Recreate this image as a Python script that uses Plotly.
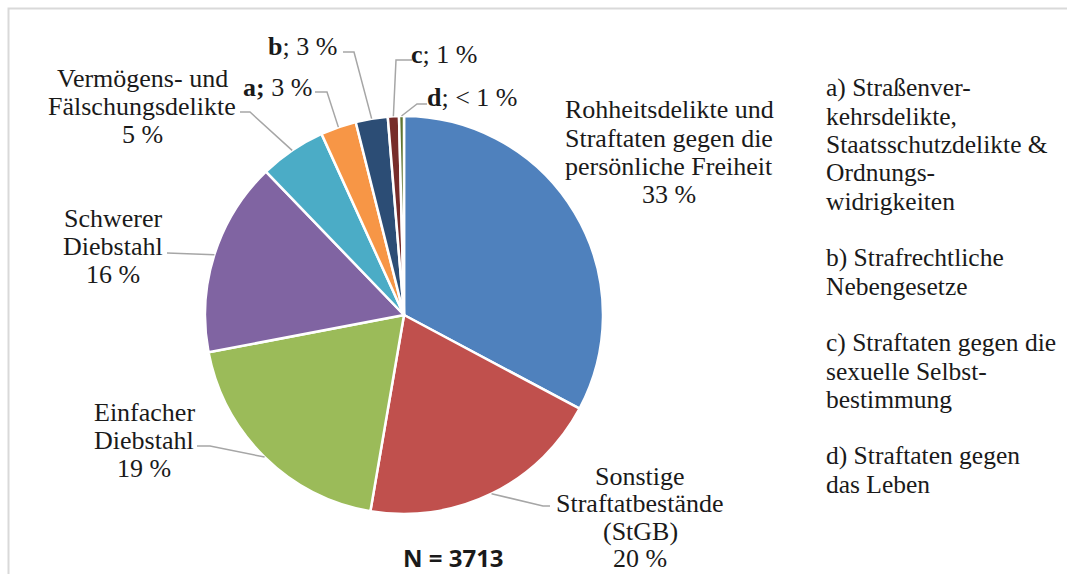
import math
import plotly.graph_objects as go

# ---------------- data ----------------
categories = [
    "Rohheitsdelikte und Straftaten gegen die persönliche Freiheit",
    "Sonstige Straftatbestände (StGB)",
    "Einfacher Diebstahl",
    "Schwerer Diebstahl",
    "Vermögens- und Fälschungsdelikte",
    "a", "b", "c", "d",
]
shares = [32.8, 19.9, 19.3, 15.8, 5.4, 2.9, 2.6, 0.9, 0.4]
pct_labels = ["33 %", "20 %", "19 %", "16 %", "5 %", "3 %", "3 %", "1 %", "&lt; 1 %"]
label_lines = [
    ["Rohheitsdelikte und", "Straftaten gegen die", "persönliche Freiheit"],
    ["Sonstige", "Straftatbestände", "(StGB)"],
    ["Einfacher", "Diebstahl"],
    ["Schwerer", "Diebstahl"],
    ["Vermögens- und", "Fälschungsdelikte"],
    ["<b>a;</b>"], ["<b>b</b>;"], ["<b>c</b>;"], ["<b>d</b>;"],
]
colors = ["#4F81BD", "#C0504D", "#9BBB59", "#8064A2", "#4BACC6",
          "#F79646", "#2C4D75", "#772C2A", "#5F7530"]
legend_lines = [
    "a) Straßenver-", "kehrsdelikte,", "Staatsschutzdelikte &amp;", "Ordnungs-", "widrigkeiten", "",
    "b) Strafrechtliche", "Nebengesetze", "",
    "c) Straftaten gegen die", "sexuelle Selbst-", "bestimmung", "",
    "d) Straftaten gegen", "das Leben",
]
n_total = 3713

# ---------------- layout geometry (pixels) ----------------
W, H = 1067, 574
CX, CY, R = 404, 315, 199
SERIF = "Liberation Serif, Times New Roman, serif"
FS = 26
LINE_H = 28.3
TEXT_COLOR = "#1a1a1a"
LEADER = "#A6A6A6"

def px(x):
    return x / W

def py(y):
    return 1 - y / H

# label block: (center x, first line y, line step, inline?)
label_pos = [
    (669, 110, LINE_H, False),
    (640, 476, 27.6, False),
    (144, 412, LINE_H, False),
    (113, 218, LINE_H, False),
    (142, 78, LINE_H, False),
    (277, 88, LINE_H, True),
    (302, 46, LINE_H, True),
    (444, 55, LINE_H, True),
    (472, 97, LINE_H, True),
]
# elbow points of leader lines (pixels), None = no leader
leader_elbows = [
    None,
    [(543, 506), (550, 506)],
    [(210, 446), (197, 446)],
    [(167, 253)],
    [(250, 112), (240, 112)],
    [(327, 92), (315, 92)],
    [(354, 52), (343, 52)],
    [(396, 60), (412, 60)],
    [(417, 104), (427, 104)],
]

fig = go.Figure()
fig.add_trace(go.Pie(
    labels=categories,
    values=shares,
    sort=False,
    direction="clockwise",
    rotation=0,
    marker=dict(colors=colors, line=dict(color="white", width=2.5)),
    textinfo="none",
    hoverinfo="label+percent",
    showlegend=False,
    domain=dict(x=[px(CX - R), px(CX + R)], y=[py(CY + R), py(CY - R)]),
))

annotations = []
shapes = []

# slice labels
for i, (cx, y0, step, inline) in enumerate(label_pos):
    if inline:
        lines = [label_lines[i][0] + " " + pct_labels[i]]
    else:
        lines = label_lines[i] + [pct_labels[i]]
    for k, t in enumerate(lines):
        annotations.append(dict(
            x=px(cx), y=py(y0 + k * step), xref="paper", yref="paper",
            text=t, showarrow=False, xanchor="center", yanchor="middle",
            font=dict(family=SERIF, size=FS, color=TEXT_COLOR),
        ))

# leader lines: start at slice edge at mid-angle computed from data
total = sum(shares)
cum = 0.0
for i, v in enumerate(shares):
    mid = (cum + v / 2) / total * 2 * math.pi
    cum += v
    if leader_elbows[i] is None:
        continue
    ex = CX + R * math.sin(mid)
    ey = CY - R * math.cos(mid)
    pts = [(ex, ey)] + leader_elbows[i]
    path = "M " + " L ".join(f"{px(x):.5f},{py(y):.5f}" for x, y in pts)
    shapes.append(dict(type="path", path=path, xref="paper", yref="paper",
                       line=dict(color=LEADER, width=1.5)))

# right-hand explanation text
for k, t in enumerate(legend_lines):
    if not t:
        continue
    annotations.append(dict(
        x=px(824), y=py(88 + k * LINE_H), xref="paper", yref="paper",
        text=t, showarrow=False, xanchor="left", yanchor="middle",
        font=dict(family=SERIF, size=FS - 0.5, color=TEXT_COLOR),
    ))

# N
annotations.append(dict(
    x=px(453), y=py(557), xref="paper", yref="paper",
    text=f"<b>N = {n_total}</b>", showarrow=False, xanchor="center", yanchor="middle",
    font=dict(family="Open Sans, Liberation Sans, sans-serif", size=24, color=TEXT_COLOR),
))

# chart-area frame (top and left edges visible)
shapes.append(dict(type="path",
                   path=f"M {px(8.5)},0 L {px(8.5)},{py(8.5)} L 1,{py(8.5)}",
                   xref="paper", yref="paper",
                   line=dict(color="#D9D9D9", width=2)))

fig.update_layout(
    width=W, height=H,
    margin=dict(l=0, r=0, t=0, b=0),
    paper_bgcolor="white", plot_bgcolor="white",
    annotations=annotations, shapes=shapes,
)

fig.write_html("out.html", config={"displayModeBar": False},
               post_script="document.body.style.margin='0px';")
